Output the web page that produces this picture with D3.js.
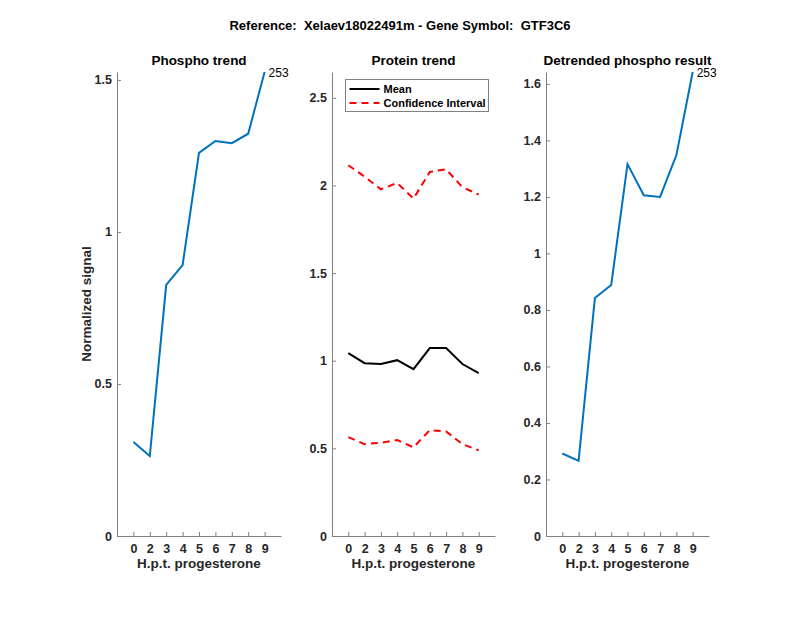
<!DOCTYPE html>
<html>
<head>
<meta charset="utf-8">
<script src="https://d3js.org/d3.v7.min.js"></script>
<style>
  body { margin: 0; background: #fff; }
  text { font-family: "Liberation Sans", Arial, sans-serif; white-space: pre; }
</style>
</head>
<body>
<div class="container"></div>
<script>
const width = 800;
const height = 618;

// x categories (hours post progesterone)
const hours = ['0', '2', '3', '4', '5', '6', '7', '8', '9'];

const phospho = [0.309, 0.263, 0.826, 0.891, 1.26, 1.299, 1.292, 1.323, 1.526];
const proteinMean = [1.043, 0.986, 0.981, 1.003, 0.952, 1.072, 1.072, 0.981, 0.929];
const proteinUpper = [2.115, 2.05, 1.978, 2.014, 1.925, 2.077, 2.092, 1.99, 1.948];
const proteinLower = [0.564, 0.524, 0.532, 0.547, 0.506, 0.604, 0.597, 0.524, 0.489];
const detrended = [0.292, 0.266, 0.842, 0.888, 1.316, 1.206, 1.2, 1.348, 1.642];

const peptideLabel = '253';

const panels = [
  { title: 'Phospho trend', left: 117, right: 281, ymax: 1.526, ticks: [0, 0.5, 1, 1.5] },
  { title: 'Protein trend', left: 332, right: 495, ymax: 2.647, ticks: [0, 0.5, 1, 1.5, 2, 2.5] },
  { title: 'Detrended phospho result', left: 546, right: 709, ymax: 1.642, ticks: [0, 0.2, 0.4, 0.6, 0.8, 1, 1.2, 1.4, 1.6] }
];
const plotTop = 72, plotBottom = 536;

const svg = d3.select('.container')
  .append('svg')
  .attr('width', width)
  .attr('height', height);

svg.append('text')
  .attr('x', 400).attr('y', 30)
  .attr('text-anchor', 'middle')
  .attr('font-size', 13).attr('font-weight', 'bold')
  .attr('fill', '#000')
  .text('Reference:  Xelaev18022491m - Gene Symbol:  GTF3C6');

const scales = panels.map((p) => {
  const x = d3.scaleLinear().domain([0, hours.length + 1]).range([p.left, p.right]);
  const y = d3.scaleLinear().domain([0, p.ymax]).range([plotBottom, plotTop]);
  const g = svg.append('g');

  const xAxis = d3.axisBottom(x)
    .tickValues(d3.range(1, hours.length + 1))
    .tickFormat((d) => hours[d - 1])
    .tickSizeInner(-4).tickSizeOuter(0).tickPadding(8);
  const gx = g.append('g').attr('transform', `translate(0,${plotBottom})`).call(xAxis);

  const yAxis = d3.axisLeft(y)
    .tickValues(p.ticks)
    .tickFormat(d3.format(''))
    .tickSizeInner(-4).tickSizeOuter(0).tickPadding(5);
  const gy = g.append('g').attr('transform', `translate(${p.left},0)`).call(yAxis);

  [gx, gy].forEach((a) => {
    a.select('.domain').attr('stroke', '#808080').attr('stroke-width', 1);
    a.selectAll('.tick line').attr('stroke', '#808080');
    a.selectAll('.tick text')
      .attr('font-family', '"Liberation Sans", Arial, sans-serif')
      .attr('font-size', 12.5).attr('font-weight', 'bold').attr('fill', '#262626');
  });

  g.append('text')
    .attr('x', (p.left + p.right) / 2).attr('y', 65)
    .attr('text-anchor', 'middle')
    .attr('font-size', 13.5).attr('font-weight', 'bold').attr('fill', '#000')
    .text(p.title);

  g.append('text')
    .attr('x', (p.left + p.right) / 2).attr('y', 568)
    .attr('text-anchor', 'middle')
    .attr('font-size', 13.5).attr('font-weight', 'bold').attr('fill', '#262626')
    .text('H.p.t. progesterone');

  return { x, y, g };
});

// y label on first panel
svg.append('text')
  .attr('transform', 'translate(91,304) rotate(-90)')
  .attr('text-anchor', 'middle')
  .attr('font-size', 13.5).attr('font-weight', 'bold').attr('fill', '#262626')
  .text('Normalized signal');

function drawLine(s, values, color, dash) {
  const line = d3.line()
    .x((d, i) => s.x(i + 1))
    .y((d) => s.y(d));
  s.g.append('path')
    .datum(values)
    .attr('fill', 'none')
    .attr('stroke', color)
    .attr('stroke-width', 2)
    .attr('stroke-dasharray', dash || null)
    .attr('d', line);
}

drawLine(scales[0], phospho, '#0072BD');
drawLine(scales[1], proteinUpper, '#ff0000', '7,5');
drawLine(scales[1], proteinLower, '#ff0000', '7,5');
drawLine(scales[1], proteinMean, '#000000');
drawLine(scales[2], detrended, '#0072BD');

// peptide label at last point
[[scales[0], phospho], [scales[2], detrended]].forEach(([s, vals]) => {
  const n = vals.length;
  s.g.append('text')
    .attr('x', s.x(n) + 4).attr('y', s.y(vals[n - 1]) + 5)
    .attr('font-size', 12).attr('fill', '#000')
    .text(peptideLabel);
});

// legend for protein panel
const lg = svg.append('g').attr('transform', 'translate(345.5,79.5)');
lg.append('rect')
  .attr('width', 143).attr('height', 32)
  .attr('fill', '#fff').attr('stroke', '#808080').attr('stroke-width', 1);
const items = [
  { label: 'Mean', color: '#000', dash: null },
  { label: 'Confidence Interval', color: '#ff0000', dash: '7,5' }
];
items.forEach((it, i) => {
  const yy = 9.5 + i * 14;
  lg.append('line')
    .attr('x1', 4).attr('x2', 34).attr('y1', yy).attr('y2', yy)
    .attr('stroke', it.color).attr('stroke-width', 2)
    .attr('stroke-dasharray', it.dash);
  lg.append('text')
    .attr('x', 38).attr('y', yy + 4)
    .attr('font-size', 11).attr('font-weight', 'bold').attr('fill', '#000')
    .text(it.label);
});
</script>
</body>
</html>
